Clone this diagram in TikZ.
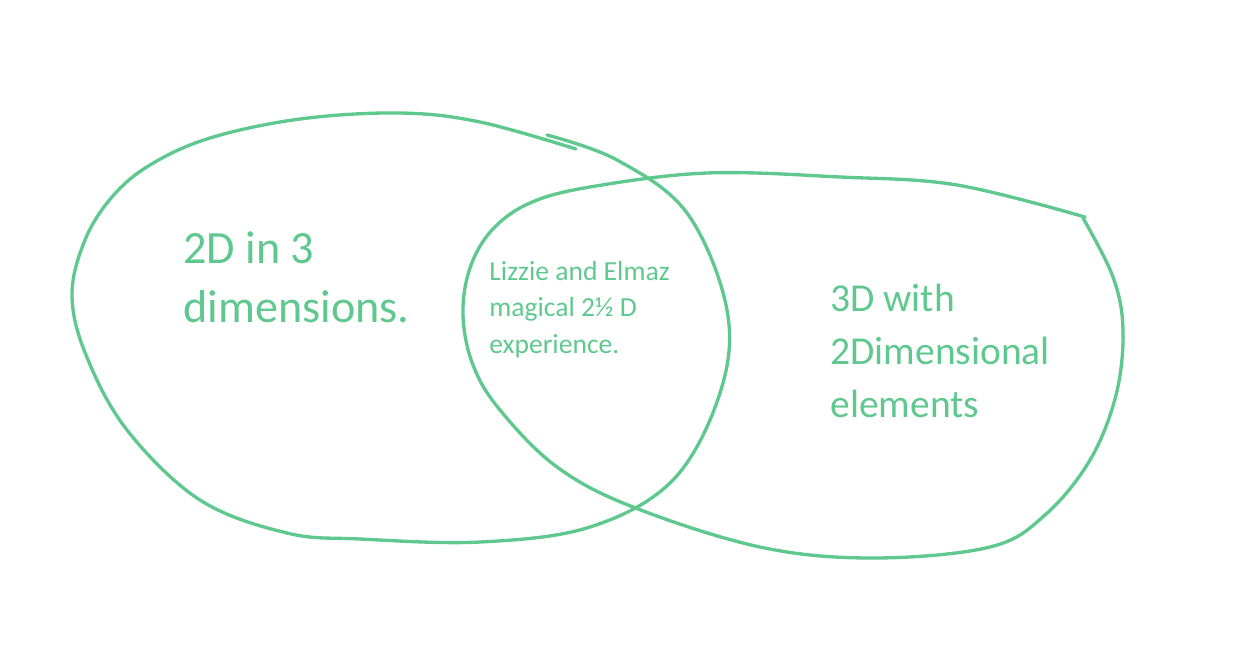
\documentclass[tikz,border=0pt]{standalone}
\usepackage{fontspec}
\setmainfont{Carlito}
\usepackage{tikz}
\definecolor{blobgreen}{HTML}{5FC88F}

\begin{document}
\begin{tikzpicture}[x=0.02cm,y=-0.02cm,
    blob/.style={blobgreen,line width=1.9pt,line cap=round,line join=round},
    label/.style={blobgreen,inner sep=0pt,anchor=base west,align=left}]
    \useasboundingbox (0,0) rectangle (1244,653);
    % left set
    \draw[blob]
      plot[smooth,tension=0.6] coordinates {
        (547,135) (617,160) (687,213) (727,310) (720,393) (673,480)
        (590,527) (480,542) (360,539) (287,533) (200,500) (127,430)
        (86,355) (72,295) (85,240) (112,197) (150,165) (210,138)
        (300,119) (400,113) (480,122) (576,149)
      };
    % right set
    \draw[blob]
      plot[smooth,tension=0.6] coordinates {
        (1085,217) (957,185) (840,177) (707,173) (590,187) (530,203)
        (492,230) (470,268) (463,315) (473,365) (500,410) (557,467)
        (633,507) (760,547) (873,558) (990,547) (1045,515) (1090,460)
        (1116,395) (1123,330) (1113,277) (1083,218)
      };
    \node[label,font=\fontsize{26.3}{33.5}\selectfont] (twoD) at (183,322)
      {2D in 3\\dimensions.};
    \node[label,font=\fontsize{15.7}{20.7}\selectfont] (overlap) at (489,353)
      {Lizzie and Elmaz\\magical 2½ D\\experience.};
    \node[label,font=\fontsize{22.5}{30}\selectfont] (threeD) at (830,417)
      {3D with\\2Dimensional\\elements};
\end{tikzpicture}
\end{document}
